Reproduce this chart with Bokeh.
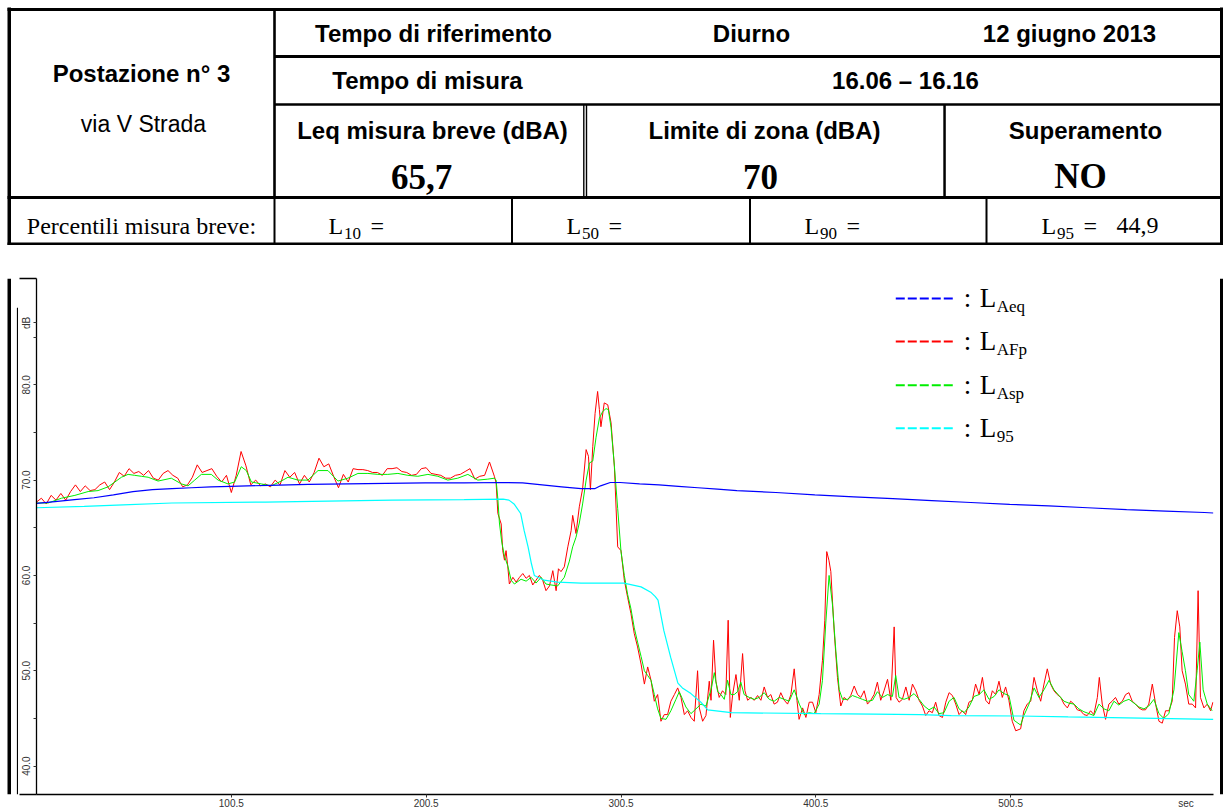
import math
from bokeh.plotting import figure
from bokeh.layouts import column, row
from bokeh.models import Range1d, FixedTicker, PrintfTickFormatter, Label
from bokeh.embed import file_html
from bokeh.resources import INLINE

# ---------------- data ----------------
series_names = ["LAeq", "LAFp", "LAsp", "L95"]
x_ticks = [100.5, 200.5, 300.5, 400.5, 500.5]
y_ticks = [40, 50, 60, 70, 80]
y_minor_ticks = [45, 55, 65, 75, 85]

t_laf = [0.5, 3.0, 5.5, 8.0, 10.5, 13.0, 15.5, 18.0, 20.5, 23.0,
         25.5, 28.0, 30.5, 33.0, 35.5, 38.0, 40.5, 43.0, 45.5, 48.0,
         50.5, 53.0, 55.5, 58.0, 60.5, 63.0, 65.5, 68.0, 70.5, 73.0,
         75.5, 78.0, 80.5, 83.0, 85.5, 88.0, 90.5, 93.0, 95.5, 98.0,
         100.5, 103.0, 105.5, 108.0, 110.5, 113.0, 115.5, 118.0, 120.5, 123.0,
         125.5, 128.0, 130.5, 133.0, 135.5, 138.0, 140.5, 143.0, 145.5, 148.0,
         150.5, 153.0, 155.5, 158.0, 160.5, 163.0, 165.5, 168.0, 170.5, 173.0,
         175.5, 178.0, 180.5, 183.0, 185.5, 188.0, 190.5, 193.0, 195.5, 198.0,
         200.5, 203.0, 205.5, 208.0, 210.5, 213.0, 215.5, 218.0, 220.5, 223.0,
         225.5, 228.0, 230.5, 233.0, 235.5,
         236.4, 237.3, 239.0, 239.8, 240.7, 241.5, 242.4, 243.2, 245.0, 246.7,
         248.4, 250.1, 251.8, 253.5, 255.2, 256.9, 258.6, 260.3, 262.0, 263.8,
         265.5, 267.2, 268.4, 269.7, 271.4, 273.2, 274.9, 275.7, 277.4, 279.1,
         280.8, 282.6, 283.8, 284.8, 286.0, 287.2, 288.5, 289.4, 290.2, 291.9,
         293.7, 295.4, 297.1, 298.8, 300.5, 302.2, 303.9, 305.6, 307.3, 309.0,
         310.8, 312.5, 314.2, 315.9, 317.6, 319.3, 321.0, 322.7, 324.4, 326.1,
         327.9, 329.6, 331.3, 333.0, 334.7,
         336.4, 338.1, 339.8, 340.7, 342.4, 344.1, 345.8, 346.7, 348.0, 349.2,
         350.9, 352.6, 354.3, 355.5, 356.6, 357.8, 359.5, 361.2, 362.9, 364.1,
         365.5, 367.2, 368.9, 370.6, 372.3, 374.0, 375.7, 377.4, 379.1, 380.8,
         382.5, 384.3, 386.0, 387.7, 389.4, 390.8, 391.9, 393.7, 395.4, 397.1,
         398.8, 400.5, 402.2, 403.9, 405.1, 406.1, 407.2, 408.2, 409.9, 411.6,
         413.3, 415.0, 416.7, 418.4, 420.2, 421.9, 423.6, 425.3, 427.0, 428.7,
         430.4, 432.1, 433.8, 435.5, 437.3, 439.0, 440.7, 441.7, 443.2, 444.9,
         446.7, 448.4, 450.1, 451.8, 453.5, 455.2, 456.9, 458.6, 460.3, 462.0,
         463.7, 465.5, 467.2, 468.9, 470.6, 472.3, 474.0, 475.7, 477.4, 479.1,
         480.8, 482.5, 484.3, 486.0, 487.7, 489.4, 491.1, 492.8, 494.5, 496.2,
         497.9, 499.6, 501.3, 503.1, 505.6,
         507.3, 509.0, 510.8, 512.5, 514.2, 515.9, 517.6, 519.3, 521.0, 522.7,
         524.4, 526.2, 527.9, 529.6, 531.3, 533.0, 534.7, 536.4, 538.1, 539.8,
         541.5, 543.2, 545.0, 546.0, 547.5, 549.2, 550.9, 552.6, 554.3, 556.0,
         557.8, 559.5, 561.2, 562.9, 564.6, 566.3, 568.0, 569.7, 571.4, 573.2,
         574.9, 576.6, 578.3, 580.0, 581.7, 583.4, 584.6, 586.0, 587.3, 588.5,
         590.2, 591.9, 593.7, 595.4, 596.7, 597.9, 599.7, 601.4, 603.1, 604.3]
laf = [67.7, 68.1, 67.5, 68.4, 67.9, 68.6, 67.9, 68.8, 69.5, 68.8,
       69.4, 68.9, 69.0, 69.5, 69.8, 69.0, 69.8, 70.8, 70.4, 71.2,
       70.7, 70.9, 70.5, 71.0, 70.2, 70.0, 70.7, 71.0, 70.5, 70.2,
       69.3, 69.5, 70.3, 71.6, 70.8, 71.0, 71.2, 70.4, 69.8, 70.5,
       68.7, 70.5, 73.0, 71.5, 69.5, 70.0, 69.4, 69.6, 69.3, 70.0,
       69.5, 71.0, 70.3, 70.8, 69.6, 70.5, 69.8, 70.8, 72.3, 71.4,
       71.7, 70.4, 69.2, 70.6, 69.8, 71.2, 71.1, 71.1, 71.0, 70.8,
       70.8, 70.5, 71.2, 71.2, 71.3, 70.9, 70.8, 70.5, 70.6, 71.2,
       71.3, 70.7, 70.6, 70.5, 70.2, 70.2, 70.5, 70.6, 70.9, 71.2,
       70.1, 70.4, 70.5, 71.9, 70.4,
       69.7, 66.5, 65.4, 62.6, 61.6, 62.6, 60.9, 59.1, 59.8, 59.3,
       59.8, 60.2, 59.7, 60.0, 59.0, 59.5, 60.0, 59.5, 58.4, 58.9,
       60.5, 58.4, 60.7, 60.4, 60.9, 63.0, 64.7, 66.3, 64.4, 67.2,
       69.1, 73.2, 72.5, 69.0, 73.5, 77.0, 79.3, 77.4, 75.6, 78.1,
       77.9, 76.0, 71.4, 63.0, 62.6, 59.5, 57.7, 56.0, 53.9, 52.5,
       50.7, 48.6, 50.4, 49.0, 46.8, 47.5, 44.7, 45.4, 45.4, 46.8,
       47.5, 48.2, 47.2, 45.4, 45.8,
       45.1, 44.7, 50.0, 46.1, 44.7, 45.3, 48.9, 46.9, 53.2, 48.9,
       47.2, 47.9, 47.5, 55.3, 45.1, 47.5, 49.6, 46.9, 51.8, 47.9,
       46.9, 47.2, 46.9, 47.4, 46.9, 48.3, 47.2, 47.5, 46.5, 46.7,
       47.7, 46.9, 46.5, 47.5, 50.2, 46.9, 44.9, 46.1, 45.1, 46.7,
       46.7, 45.6, 47.5, 51.1, 55.3, 62.5, 61.6, 60.4, 54.2, 49.3,
       46.3, 47.2, 46.9, 47.4, 48.4, 47.5, 47.2, 47.9, 46.5, 46.9,
       47.5, 48.8, 46.9, 47.9, 49.1, 46.9, 54.6, 47.2, 46.7, 47.0,
       48.3, 46.9, 48.6, 47.9, 46.9, 46.3, 45.3, 45.8, 45.6, 46.7,
       45.3, 45.1, 46.7, 47.7, 47.4, 46.5, 45.4, 45.8, 45.4, 46.7,
       46.9, 48.6, 47.5, 49.3, 46.9, 46.5, 47.9, 47.5, 48.9, 47.2,
       48.3, 46.9, 44.7, 43.7, 43.9,
       45.8, 46.5, 46.8, 49.3, 47.9, 46.8, 48.6, 50.2, 48.6, 47.9,
       47.5, 47.2, 46.5, 46.1, 46.8, 46.5, 45.9, 45.8, 45.4, 45.3,
       45.8, 45.4, 47.2, 49.3, 46.5, 44.9, 46.5, 46.8, 47.2, 46.5,
       46.8, 47.5, 47.7, 46.8, 46.5, 46.1, 45.9, 45.9, 46.5, 48.6,
       46.5, 44.7, 44.5, 45.8, 45.8, 46.8, 53.5, 56.3, 54.6, 50.0,
       48.6, 46.5, 46.5, 46.1, 58.4, 47.2, 46.1, 46.5, 45.8, 46.7]

t_las = [0.5, 6.5, 13.3, 20.2, 27.0, 32.1, 37.3, 40.7, 44.1, 47.5,
         50.9, 54.3, 57.8, 62.9, 69.7, 74.9, 78.3, 81.7, 85.1, 90.2,
         93.7, 98.8, 102.2, 105.6, 108.2, 110.8, 115.9, 121.0, 126.1, 129.6,
         134.7, 139.8, 145.0, 150.1, 155.2, 160.3, 165.5, 170.6, 175.7, 180.8,
         186.0, 191.1, 196.2, 201.4, 206.5, 211.6, 216.7, 221.9, 227.0, 232.1,
         235.5,
         236.4, 237.3, 238.1, 239.3, 240.7, 242.4, 244.1, 245.8, 249.2, 251.8,
         254.4, 256.9, 259.5, 262.0, 264.6, 268.0, 271.4, 274.0, 275.7, 277.4,
         279.1, 280.8, 282.6, 284.3, 286.0, 287.7, 289.4, 291.1, 292.8, 294.0,
         295.4, 297.1, 298.8, 300.5, 302.2, 303.9, 305.6, 307.3, 309.0, 310.8,
         312.5, 314.2, 315.9, 317.6, 319.3, 321.0, 323.6, 326.1, 328.7, 330.4,
         332.1, 333.8,
         336.4, 339.0, 341.5, 344.1, 346.7, 348.4, 350.1, 351.8, 353.5, 355.2,
         356.9, 358.6, 360.3, 362.0, 363.7, 366.3, 368.9, 371.4, 374.0, 376.6,
         379.1, 381.7, 384.3, 386.8, 389.4, 392.0, 394.5, 397.1, 399.6, 402.2,
         403.9, 405.6, 407.3, 409.0, 410.8, 412.5, 414.2, 416.7, 419.3, 421.9,
         424.4, 427.0, 429.6, 432.1, 434.7, 437.3, 439.8, 441.5, 443.2, 445.8,
         448.4, 450.9, 453.5, 456.1, 458.6, 461.2, 463.7, 466.3, 468.9, 471.4,
         474.0, 476.6, 479.1, 481.7, 484.3, 486.8, 489.4, 492.0, 494.5, 497.1,
         499.6, 502.2, 505.6,
         507.3, 509.9, 512.5, 515.0, 517.6, 520.2, 522.7, 525.3, 527.9, 530.4,
         533.0, 535.5, 538.1, 540.7, 543.2, 545.8, 548.4, 550.9, 553.5, 556.0,
         558.6, 561.2, 563.8, 566.3, 568.9, 571.4, 574.0, 576.6, 579.1, 581.7,
         584.3, 586.8, 588.5, 590.2, 591.9, 594.5, 596.2, 597.6, 599.3, 601.4,
         603.9]
las = [67.6, 67.6, 68.1, 68.4, 68.8, 68.9, 69.3, 69.8, 70.3, 70.6,
       70.5, 70.4, 70.3, 69.9, 70.2, 69.6, 69.4, 70.0, 70.6, 70.6,
       70.0, 69.6, 69.8, 71.4, 71.0, 69.8, 69.6, 69.4, 69.9, 70.3,
       70.0, 70.0, 71.0, 71.0, 69.9, 70.2, 70.7, 70.7, 70.6, 70.6,
       70.7, 70.5, 70.4, 70.6, 70.4, 70.0, 70.2, 70.6, 70.0, 70.1,
       70.2,
       70.0, 68.0, 65.5, 63.5, 62.0, 61.0, 59.5, 59.1, 59.6, 59.4,
       59.8, 59.2, 59.8, 59.1, 59.0, 58.9, 59.8, 61.5, 63.0, 64.0,
       65.5, 67.5, 70.0, 71.8, 72.0, 74.5, 76.5, 77.2, 77.5, 77.4,
       75.5, 71.5, 67.0, 62.5, 60.0, 58.0, 56.5, 54.5, 53.0, 51.5,
       50.0, 49.5, 49.0, 47.5, 46.0, 45.0, 44.9, 45.8, 47.0, 47.8,
       47.0, 46.2,
       45.5, 46.0, 46.5, 46.3, 48.0, 49.8, 47.8, 47.5, 47.0, 49.0,
       47.5, 47.5, 47.8, 48.8, 47.5, 47.2, 47.0, 47.2, 47.7, 47.0,
       46.8, 47.2, 47.0, 46.8, 48.0, 46.5, 45.4, 45.6, 45.5, 46.5,
       49.0, 55.0, 60.0, 57.0, 52.0, 48.0, 47.0, 47.0, 47.4, 47.2,
       47.0, 46.8, 46.9, 47.8, 47.2, 47.5, 47.3, 49.5, 47.2, 47.0,
       47.2, 47.6, 47.0, 46.3, 45.9, 46.2, 45.5, 45.6, 46.8, 47.2,
       46.0, 45.6, 46.2, 47.3, 47.5, 48.0, 47.0, 47.3, 48.0, 47.6,
       47.4, 44.8, 44.3,
       45.3, 46.5, 48.2, 47.2, 48.0, 49.0, 48.0, 47.4, 46.8, 46.6,
       46.5, 46.0, 45.7, 45.5, 45.3, 46.5, 46.0, 45.8, 46.8, 46.4,
       46.8, 47.0, 46.6, 46.2, 46.0, 46.3, 47.0, 45.5, 45.0, 45.5,
       48.0, 54.0, 52.0, 50.0, 47.5, 46.8, 50.0, 53.0, 48.0, 46.5,
       45.8]

t_leq = [0.5, 10, 20, 30, 40, 50, 60, 70, 80, 90,
         100, 120, 140, 160, 180, 200, 220, 240, 250, 260,
         270, 280, 287, 290, 295, 300, 310, 320, 330, 340,
         350, 360, 380, 400, 420, 440, 460, 480, 500, 520,
         540, 560, 580, 600, 604.5]
leq = [67.55, 67.75, 67.95, 68.15, 68.45, 68.8, 69.0, 69.1, 69.2, 69.3,
       69.35, 69.45, 69.55, 69.6, 69.65, 69.7, 69.7, 69.75, 69.7, 69.5,
       69.3, 69.1, 69.1, 69.4, 69.75, 69.75, 69.6, 69.5, 69.35, 69.2,
       69.05, 68.9, 68.7, 68.45, 68.25, 68.05, 67.85, 67.65, 67.45, 67.3,
       67.1, 66.9, 66.75, 66.6, 66.55]

t_l95 = [0.5, 25, 45, 70, 118, 150, 183, 220, 240, 243,
         245.6, 249, 250.8, 252.8, 254.5, 256, 261, 268, 280, 302,
         310.8, 316, 318, 319.5, 322.5, 326, 329.7, 332, 336.4, 341.5,
         345, 357, 403, 430, 454, 470, 505, 530, 560, 590,
         604.5]
l95 = [67.1, 67.25, 67.4, 67.6, 67.7, 67.8, 67.9, 67.95, 68.0, 67.9,
       67.5, 66.5, 64.7, 63.0, 61.25, 60.0, 59.5, 59.3, 59.2, 59.2,
       58.8, 58.2, 57.8, 57.4, 54.2, 51.4, 48.7, 48.2, 47.6, 46.7,
       45.9, 45.6, 45.5, 45.45, 45.4, 45.3, 45.25, 45.15, 45.05, 44.95,
       44.9]

# ---------------- geometry (page pixels) ----------------
PAGE_W = 1224
TABLE_H = 245
CHART_TOP, CHART_BOT = 245, 811
LEFT_W, RIGHT_X = 18, 1219
FL, FR, FT = 35, 1213, 278
X_AXIS_PANEL = 16
FB = CHART_BOT - X_AXIS_PANEL   # expected frame bottom
PX_PER_S = 1.95
PX_PER_DB = 9.55

SANS = "Liberation Sans"
SERIF = "Liberation Serif"


def base_fig(w, h, xr, yr, **kw):
    f = figure(width=w, height=h, output_backend="svg", toolbar_location=None, title=None,
               x_range=xr, y_range=yr, **kw)
    f.outline_line_color = None
    f.grid.visible = False
    f.background_fill_color = "white"
    f.border_fill_color = "white"
    return f


def plain_fig(w, h, x_start, x_end, y_top, y_bot):
    return base_fig(w, h, Range1d(x_start, x_end), Range1d(y_bot, y_top),
                    x_axis_location=None, y_axis_location=None, min_border=0)


def bars(f, rects):
    f.quad(left=[r[0] for r in rects], right=[r[1] for r in rects],
           top=[r[2] for r in rects], bottom=[r[3] for r in rects],
           fill_color="black", line_color=None)


def txt(f, x, y, s, size, font=SANS, style="normal", align="center",
        color="black", angle=0.0, xr="default", yr="default"):
    # y is the vertical middle of the text
    f.add_layout(Label(x=x, y=y, text=s, x_range_name=xr, y_range_name=yr,
                       text_font=font, text_font_size=f"{size}px", text_font_style=style,
                       text_align=align, text_baseline="middle", text_color=color,
                       angle=angle))


# ---------------- table (top) ----------------
tab = plain_fig(PAGE_W, TABLE_H, 0, PAGE_W, 0, TABLE_H)
bars(tab, [
    (7, 10.5, 7, TABLE_H),          # outer left
    (1219.5, 1222.5, 7, TABLE_H),   # outer right
    (7, 1222.5, 7.5, 10.5),         # outer top
    (274, 1222, 54.5, 57.5),        # row 1/2
    (274, 1222, 102.7, 105.3),      # row 2/3
    (7, 1222, 195.5, 198.5),        # row 3/4
    (7, 1222, 242, 245),            # row 4/chart
    (272.7, 275.3, 9, 197),         # first column divider
    (273, 275, 197, 244),
    (582.6, 584.0, 104, 197),       # double line
    (585.3, 586.7, 104, 197),
    (942.8, 945.3, 104, 197),       # limite / superamento
    (510.5, 512.5, 197, 244),       # row 4 dividers
    (748.5, 750.5, 197, 244),
    (985, 987, 197, 244),
])

BOLD = 24
txt(tab, 433, 33, "Tempo di riferimento", BOLD, style="bold")
txt(tab, 751, 33, "Diurno", BOLD, style="bold")
txt(tab, 1069, 33, "12 giugno 2013", BOLD, style="bold")
txt(tab, 141, 73, "Postazione n° 3", BOLD, style="bold")
txt(tab, 143, 123, "via V Strada", 23)
txt(tab, 427, 80, "Tempo di misura", BOLD, style="bold")
txt(tab, 905, 80, "16.06 – 16.16", BOLD, style="bold")
txt(tab, 432, 130, "Leq misura breve (dBA)", BOLD, style="bold")
txt(tab, 764, 130, "Limite di zona (dBA)", BOLD, style="bold")
txt(tab, 1085, 130, "Superamento", BOLD, style="bold")
txt(tab, 421, 176, "65,7", 35, font=SERIF, style="bold")
txt(tab, 760, 176, "70", 35, font=SERIF, style="bold")
txt(tab, 1080, 176, "NO", 35, font=SERIF, style="bold")

ROW4_MID = 225
SUB_MID = 232.5
T4 = 24
txt(tab, 141, ROW4_MID, "Percentili misura breve:", T4, font=SERIF)
for cell_left, sub, extra in [(274, "10", ""), (512, "50", ""), (750, "90", ""), (987, "95", "44,9")]:
    lx = cell_left + 54
    txt(tab, lx, ROW4_MID, "L", T4, font=SERIF, align="left")
    txt(tab, lx + 15.5, SUB_MID, sub, 17, font=SERIF, align="left")
    txt(tab, lx + 42, ROW4_MID, "=", T4, font=SERIF, align="left")
    if extra:
        txt(tab, lx + 75, ROW4_MID, extra, T4, font=SERIF, align="left")

# ---------------- side strips of the chart area ----------------
CH = CHART_BOT - CHART_TOP
left = plain_fig(LEFT_W, CH, 0, LEFT_W, CHART_TOP, CHART_BOT)
bars(left, [(7, 10.5, CHART_TOP, CHART_BOT), (16.4, 18, FT - 1, CHART_BOT)])
right = plain_fig(PAGE_W - RIGHT_X, CH, RIGHT_X, PAGE_W, CHART_TOP, CHART_BOT)
bars(right, [(1219.5, 1222.5, CHART_TOP, CHART_BOT)])

# ---------------- chart ----------------
x0 = 0.5
x1 = x0 + (FR - FL) / PX_PER_S
y1 = 70 + (480 - FT) / PX_PER_DB
y0 = 70 - (FB - 480) / PX_PER_DB

p = base_fig(RIGHT_X - LEFT_W, CH, Range1d(x0, x1), Range1d(y0, y1),
             min_border_left=FL - LEFT_W, min_border_right=RIGHT_X - FR,
             min_border_top=FT - CHART_TOP, min_border_bottom=X_AXIS_PANEL)
p.extra_x_ranges = {"px": Range1d(FL, FR)}
p.extra_y_ranges = {"py": Range1d(FB, FT)}

AX_COLOR = "#333333"
sec_pos = 590.5
xa = p.xaxis[0]
xa.ticker = FixedTicker(ticks=x_ticks + [sec_pos], minor_ticks=x_ticks)
xa.formatter = PrintfTickFormatter(format="%.1f")
xa.major_label_overrides = {sec_pos: "sec"}
xa.major_tick_out = 0
xa.major_tick_in = 0
xa.minor_tick_out = 3
xa.minor_tick_in = 0
xa.minor_tick_line_color = AX_COLOR
xa.major_label_standoff = 0
xa.major_label_text_font = SANS
xa.major_label_text_font_size = "10px"
xa.major_label_text_color = AX_COLOR
xa.axis_line_color = "black"
xa.axis_line_width = 1.3

BOX_TICK = FL - LEFT_W
db_pos = 86.5
ya = p.yaxis[0]
ya.ticker = FixedTicker(ticks=sorted(y_ticks + y_minor_ticks) + [db_pos],
                        minor_ticks=[y0 + 0.02, y1 - 0.02])
ya.formatter = PrintfTickFormatter(format="%.1f")
overrides = {v: "" for v in y_minor_ticks}
overrides[db_pos] = "dB"
ya.major_label_overrides = overrides
ya.major_tick_out = 3
ya.major_tick_in = 0
ya.major_tick_line_color = AX_COLOR
ya.minor_tick_out = BOX_TICK
ya.minor_tick_in = 0
ya.minor_tick_line_color = "black"
ya.minor_tick_line_width = 1.5
ya.major_label_standoff = 4 - BOX_TICK
ya.major_label_orientation = "vertical"
ya.major_label_text_font = SANS
ya.major_label_text_font_size = "10px"
ya.major_label_text_color = AX_COLOR
ya.axis_line_color = "black"
ya.axis_line_width = 1.3

colors = {"LAeq": "#0000FF", "LAFp": "#FF0000", "LAsp": "#00EE00", "L95": "#00FFFF"}
p.line(t_laf[:len(laf)], laf[:len(t_laf)], line_color=colors["LAFp"], line_width=1)
p.line(t_las[:len(las)], las[:len(t_las)], line_color=colors["LAsp"], line_width=1)
p.line(t_leq, leq, line_color=colors["LAeq"], line_width=1.2)
p.line(t_l95, l95, line_color=colors["L95"], line_width=1.2)

# legend: coloured dashes + ": L" with subscript
legend_rows = [("LAeq", "Aeq", 298), ("LAFp", "AFp", 341), ("LAsp", "Asp", 385), ("L95", "95", 428)]
for name, sub, ly in legend_rows:
    p.segment(x0=[895], y0=[ly], x1=[953], y1=[ly], x_range_name="px", y_range_name="py",
              line_color=colors[name], line_width=2, line_dash="9 3")
    txt(p, 963, ly, ":", 27, font=SERIF, align="left", xr="px", yr="py")
    txt(p, 979, ly, "L", 27, font=SERIF, align="left", xr="px", yr="py")
    txt(p, 996, ly + 8.5, sub, 17, font=SERIF, align="left", xr="px", yr="py")

layout = column(tab, row(left, p, right, spacing=0), spacing=0)
open("out.html", "w").write(file_html(layout, INLINE))
